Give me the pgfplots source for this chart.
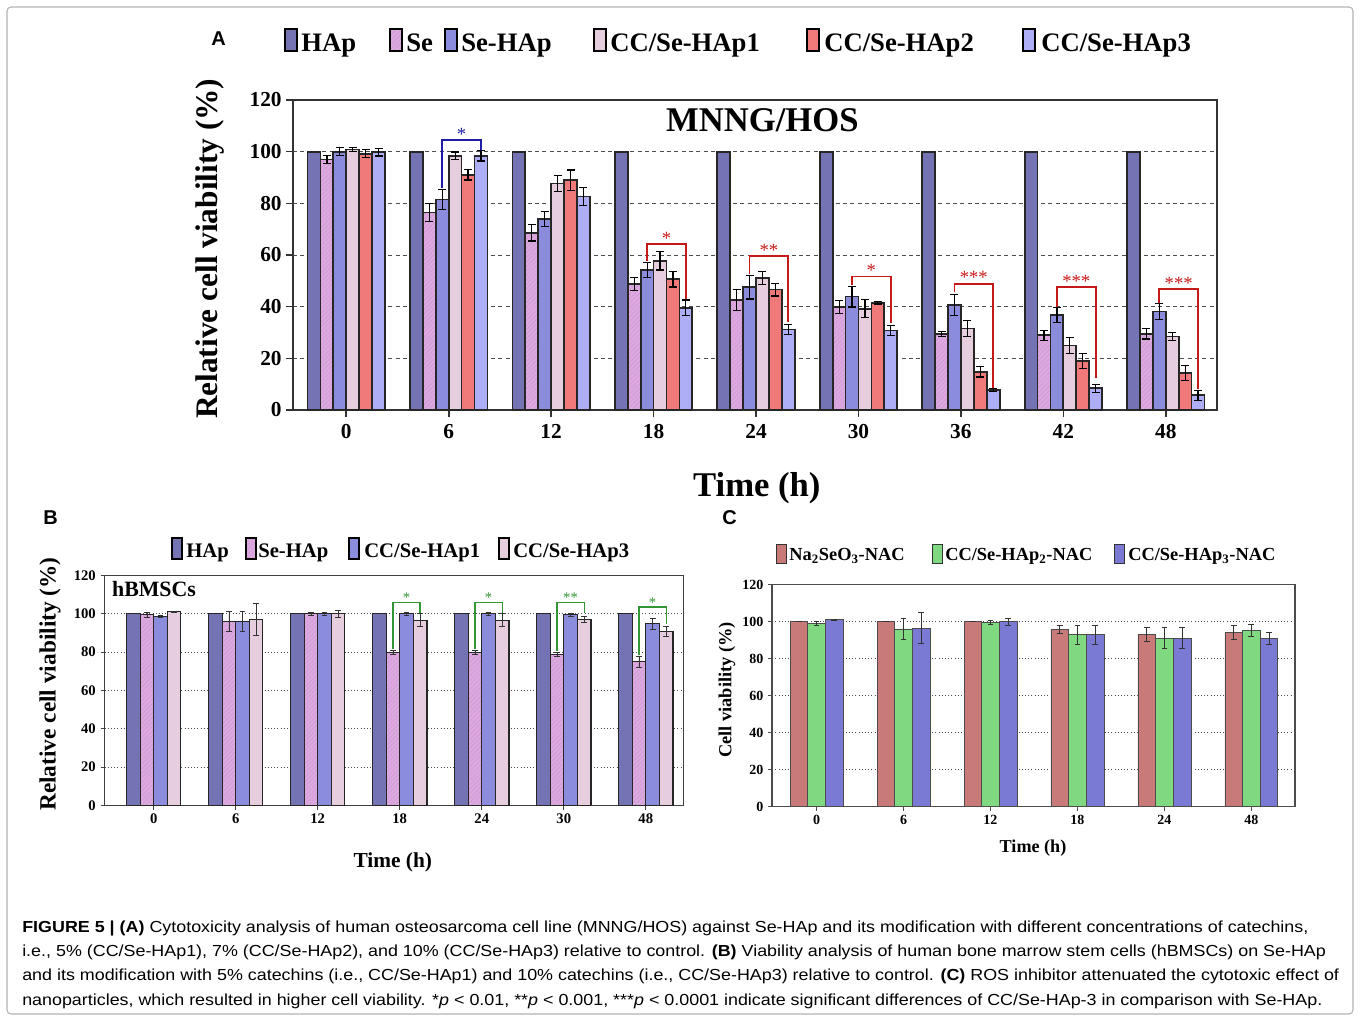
\documentclass[border=0pt]{standalone}
\usepackage{fontspec}
\setmainfont{Liberation Serif}
\newfontfamily\capfont[FakeStretch=1.118]{Liberation Sans}
\newfontfamily\letfont{Liberation Sans}
\usepackage{pgfplots}
\pgfplotsset{compat=1.18}
\usetikzlibrary{patterns.meta}
\newcommand\fs[1]{\fontsize{#1}{#1}\selectfont}
\definecolor{cHAp}{RGB}{116,116,180}
\definecolor{cSe}{RGB}{226,166,230}
\definecolor{cSeHAp}{RGB}{140,140,220}
\definecolor{cCCa}{RGB}{230,206,222}
\definecolor{cCCb}{RGB}{240,122,122}
\definecolor{cCCc}{RGB}{174,174,246}
\definecolor{cRed}{RGB}{200,122,120}
\definecolor{cGreen}{RGB}{128,216,128}
\definecolor{cBlue}{RGB}{122,122,212}
\definecolor{brBlue}{RGB}{30,30,165}
\definecolor{brRed}{RGB}{200,25,25}
\definecolor{brGreen}{RGB}{50,150,50}
\tikzset{sehatch/.style={postaction={pattern={Lines[angle=45,distance=2.4pt,line width=0.45pt]}, pattern color=white!45!cSe!80!black}}}
\pgfplotsset{
 errA/.style={error bars/.cd, y dir=both, y explicit,
   error bar style={line width=0.9pt, black},
   error mark options={rotate=90, mark size=3pt, line width=0.9pt, black}},
 errB/.style={error bars/.cd, y dir=both, y explicit,
   error bar style={line width=0.6pt, black!80},
   error mark options={rotate=90, mark size=2.2pt, line width=0.6pt, black!80}},
}
\newcommand\brA[5]{% left x, right x, top, left bottom, right bottom
  \draw[brRed, line width=1.3pt] (axis cs:#1,#4) |- (axis cs:#2,#3) -- (axis cs:#2,#5);}
\begin{document}
\begin{tikzpicture}
\begin{scope}[x=0.75pt,y=-0.75pt]
\path[use as bounding box] (0,0) rectangle (1360,1019);
\draw[black!30, line width=0.8pt, rounded corners=3pt] (7,7) rectangle (1353,1014);
% panel letters
\node[anchor=base west, inner sep=0pt, font=\letfont\bfseries\fs{15pt}] at (211,46) {A};
\node[anchor=base west, inner sep=0pt, font=\letfont\bfseries\fs{15pt}] at (43,525) {B};
\node[anchor=base west, inner sep=0pt, font=\letfont\bfseries\fs{15pt}] at (722,525) {C};
% legend A
\foreach \bx/\tx/\col/\lab in {285/301/cHAp/HAp, 445/461/cSeHAp/Se-HAp, 594/610/cCCa/CC\slash Se-HAp1, 807/824/cCCb/CC\slash Se-HAp2, 1023/1041/cCCc/CC\slash Se-HAp3}{
  \draw[fill=\col, line width=1.5pt] (\bx,29) rectangle ++(12,22);
  \node[anchor=base west, inner sep=0pt, font=\bfseries\fs{20pt}] at (\tx,52) {\lab};
}
\fill[cSe, sehatch] (390,29) rectangle ++(12,22);
\draw[line width=1.5pt] (390,29) rectangle ++(12,22);
\node[anchor=base west, inner sep=0pt, font=\bfseries\fs{20pt}] at (406,52) {Se};
% legend B
\foreach \bx/\tx/\col/\lab in {172/186/cHAp/HAp, 349/364/cSeHAp/CC\slash Se-HAp1, 499/513/cCCa/CC\slash Se-HAp3}{
  \draw[fill=\col, line width=1pt] (\bx,538) rectangle ++(10,21);
  \node[anchor=base west, inner sep=0pt, font=\bfseries\fs{15.5pt}] at (\tx,557) {\lab};
}
\fill[cSe, sehatch] (246,538) rectangle ++(10,21);
\draw[line width=1pt] (246,538) rectangle ++(10,21);
\node[anchor=base west, inner sep=0pt, font=\bfseries\fs{15.5pt}] at (258,557) {Se-HAp};
% legend C
\foreach \bx/\tx/\col/\lab in {776/789/cRed/Na\textsubscript{2}SeO\textsubscript{3}-NAC, 932/945/cGreen/CC\slash Se-HAp\textsubscript{2}-NAC, 1114/1128/cBlue/CC\slash Se-HAp\textsubscript{3}-NAC}{
  \draw[fill=\col, line width=0.7pt, draw=black!80] (\bx,544) rectangle ++(10,19);
  \node[anchor=base west, inner sep=0pt, font=\bfseries\fs{13.8pt}] at (\tx,561) {\lab};
}
% caption
\node[anchor=base west, inner sep=0pt, font=\capfont\fs{12pt}] at (22,932) {\textbf{FIGURE 5 | (A)} Cytotoxicity analysis of human osteosarcoma cell line (MNNG/HOS) against Se-HAp and its modification with different concentrations of catechins,};
\node[anchor=base west, inner sep=0pt, font=\capfont\fs{12pt}] at (22,956) {i.e., 5\% (CC/Se-HAp1), 7\% (CC/Se-HAp2), and 10\% (CC/Se-HAp3) relative to control. \textbf{(B)} Viability analysis of human bone marrow stem cells (hBMSCs) on Se-HAp};
\node[anchor=base west, inner sep=0pt, font=\capfont\fs{12pt}] at (22,980) {and its modification with 5\% catechins (i.e., CC/Se-HAp1) and 10\% catechins (i.e., CC/Se-HAp3) relative to control. \textbf{(C)} ROS inhibitor attenuated the cytotoxic effect of};
\node[anchor=base west, inner sep=0pt, font=\capfont\fs{12pt}] at (22,1005) {nanoparticles, which resulted in higher cell viability. *\textit{p} < 0.01, **\textit{p} < 0.001, ***\textit{p} < 0.0001 indicate significant differences of CC/Se-HAp-3 in comparison with Se-HAp.};
\end{scope}

% ================= Panel A
\begin{axis}[
 at={(219.75pt,-307.5pt)}, anchor=south west, scale only axis,
 width=693pt, height=232.5pt,
 xmin=-0.52, xmax=8.5, ymin=0, ymax=120,
 xtick={0,...,8}, xticklabels={0,6,12,18,24,30,36,42,48},
 ytick={0,20,...,120},
 xtick pos=bottom, ytick pos=left,
 ymajorgrids, major grid style={dash pattern=on 3pt off 2.5pt, black!70, line width=0.7pt},
 axis line style={line width=2.2pt, black!80},
 tick style={line width=1.2pt, black!80}, tick align=outside, major tick length=5pt,
 ticklabel style={font=\bfseries\fs{16pt}},
 xticklabel style={yshift=-2pt},
 /pgf/number format/assume math mode=true,
 ylabel={Relative cell viability (\%)},
 ylabel style={font=\bfseries\fs{23.5pt}, at={(axis description cs:-0.09,0.52)}, anchor=center},
 xlabel={Time (h)},
 xlabel style={font=\bfseries\fs{26pt}, at={(axis description cs:0.502,-0.252)}, anchor=center},
 ybar, bar width=0.126, clip=false,
 every axis plot/.append style={draw=black!85, line width=1.3pt},
]
\addplot[fill=cHAp, bar shift=-0.315] coordinates {(0,100)(1,100)(2,100)(3,100)(4,100)(5,100)(6,100)(7,100)(8,100)};
\addplot[fill=cSe, sehatch, bar shift=-0.189, errA] coordinates {
(0,97) +- (0,1.5) (1,76.5) +- (0,3.5) (2,68.6) +- (0,3.2) (3,48.9) +- (0,2.5) (4,42.6) +- (0,4)
(5,40) +- (0,2.5) (6,29.3) +- (0,1) (7,28.9) +- (0,2) (8,29.5) +- (0,2)};
\addplot[fill=cSeHAp, bar shift=-0.063, errA] coordinates {
(0,100) +- (0,1.5) (1,81.5) +- (0,4) (2,73.9) +- (0,3) (3,54.2) +- (0,3) (4,47.5) +- (0,4.5)
(5,43.9) +- (0,4) (6,40.6) +- (0,4) (7,36.8) +- (0,3) (8,38.1) +- (0,3)};
\addplot[fill=cCCa, bar shift=0.063, errA] coordinates {
(0,100.8) +- (0,0.8) (1,98.4) +- (0,1.5) (2,87.7) +- (0,3) (3,57.7) +- (0,3.5) (4,51.2) +- (0,2.5)
(5,39.2) +- (0,3.5) (6,31.5) +- (0,3) (7,25.0) +- (0,3) (8,28.4) +- (0,1.5)};
\addplot[fill=cCCb, bar shift=0.189, errA] coordinates {
(0,99.2) +- (0,1.5) (1,91) +- (0,2) (2,88.9) +- (0,4) (3,50.6) +- (0,3) (4,46.6) +- (0,2.5)
(5,41.5) +- (0,0.5) (6,14.8) +- (0,2) (7,19.0) +- (0,3) (8,14.3) +- (0,3)};
\addplot[fill=cCCc, bar shift=0.315, errA] coordinates {
(0,99.8) +- (0,1.5) (1,98.4) +- (0,2) (2,82.6) +- (0,3.5) (3,39.6) +- (0,3) (4,31.2) +- (0,2)
(5,30.8) +- (0,2) (6,7.7) +- (0,0.5) (7,8.4) +- (0,1.5) (8,5.7) +- (0,2)};
% brackets
\draw[brBlue, line width=1.3pt] (axis cs:0.937,86) |- (axis cs:1.315,104.5) -- (axis cs:1.315,100.5);
\node[brBlue, anchor=base, inner sep=0pt, font=\fs{14pt}] at (axis cs:1.126,104.5) {*};
\brA{2.937}{3.315}{64.2}{57.5}{43}
\brA{3.937}{4.315}{59.6}{52.5}{34}
\brA{4.937}{5.315}{51.7}{48.3}{33.5}
\brA{5.937}{6.315}{48.8}{45.5}{8.5}
\brA{6.937}{7.316}{47.5}{40}{12.5}
\brA{7.937}{8.315}{46.7}{41.5}{8}
\node[brRed, anchor=base, inner sep=0pt, font=\fs{14pt}] at (axis cs:3.126,64.2) {*};
\node[brRed, anchor=base, inner sep=0pt, font=\fs{14pt}] at (axis cs:4.126,59.6) {**};
\node[brRed, anchor=base, inner sep=0pt, font=\fs{14pt}] at (axis cs:5.126,51.7) {*};
\node[brRed, anchor=base, inner sep=0pt, font=\fs{14pt}] at (axis cs:6.126,48.8) {***};
\node[brRed, anchor=base, inner sep=0pt, font=\fs{14pt}] at (axis cs:7.126,47.5) {***};
\node[brRed, anchor=base, inner sep=0pt, font=\fs{14pt}] at (axis cs:8.126,46.7) {***};
\node[font=\bfseries\fs{26pt}] at (axis description cs:0.508,0.935) {MNNG/HOS};
\end{axis}

% ================= Panel B
\begin{axis}[
 at={(78.375pt,-604.125pt)}, anchor=south west, scale only axis,
 width=434.25pt, height=172.5pt,
 xmin=-0.6, xmax=6.46, ymin=0, ymax=120,
 xtick={0,...,6}, xticklabels={0,6,12,18,24,30,48},
 ytick={0,20,...,120},
 xtick pos=bottom, ytick pos=left,
 ymajorgrids, major grid style={dotted, black!70, line width=0.7pt},
 axis line style={line width=1.3pt, black!75},
 tick style={line width=0.8pt, black!75}, tick align=outside, major tick length=3pt,
 ticklabel style={font=\bfseries\fs{11pt}},
 /pgf/number format/assume math mode=true,
 ylabel={Relative cell viability (\%)},
 ylabel style={font=\bfseries\fs{17.5pt}, at={(axis description cs:-0.094,0.528)}, anchor=center},
 xlabel={Time (h)},
 xlabel style={font=\bfseries\fs{16pt}, at={(axis description cs:0.498,-0.246)}, anchor=center},
 ybar, bar width=0.166, clip=false,
 every axis plot/.append style={draw=black!85, line width=0.8pt},
]
\addplot[fill=cHAp, bar shift=-0.249] coordinates {(0,100)(1,100)(2,100)(3,100)(4,100)(5,100)(6,100)};
\addplot[fill=cSe, sehatch, bar shift=-0.083, errB] coordinates {
(0,99.5) +- (0,1.2) (1,96.2) +- (0,5.3) (2,100) +- (0,1) (3,79.8) +- (0,1) (4,79.8) +- (0,1) (5,79) +- (0,1) (6,74.9) +- (0,3)};
\addplot[fill=cSeHAp, bar shift=0.083, errB] coordinates {
(0,98.8) +- (0,0.6) (1,96.2) +- (0,5.3) (2,100) +- (0,1) (3,100) +- (0,1) (4,100) +- (0,1) (5,99.5) +- (0,0.8) (6,94.8) +- (0,3)};
\addplot[fill=cCCa, bar shift=0.249, errB] coordinates {
(0,101) +- (0,0.5) (1,97) +- (0,8.4) (2,100) +- (0,2) (3,96.7) +- (0,3.5) (4,96.7) +- (0,3.5) (5,97) +- (0,1.5) (6,90.8) +- (0,2.7)};
\draw[brGreen, line width=1pt] (axis cs:2.917,81.5) |- (axis cs:3.249,106) -- (axis cs:3.249,100.5);
\draw[brGreen, line width=1pt] (axis cs:3.917,81.5) |- (axis cs:4.249,106) -- (axis cs:4.249,100.5);
\draw[brGreen, line width=1pt] (axis cs:4.917,80.5) |- (axis cs:5.249,106) -- (axis cs:5.249,100.5);
\draw[brGreen, line width=1pt] (axis cs:5.917,78.5) |- (axis cs:6.249,103.5) -- (axis cs:6.249,94.5);
\node[brGreen, anchor=base, inner sep=0pt, font=\fs{11pt}] at (axis cs:3.083,106) {*};
\node[brGreen, anchor=base, inner sep=0pt, font=\fs{11pt}] at (axis cs:4.083,106) {*};
\node[brGreen, anchor=base, inner sep=0pt, font=\fs{11pt}] at (axis cs:5.083,106) {**};
\node[brGreen, anchor=base, inner sep=0pt, font=\fs{11pt}] at (axis cs:6.083,103.5) {*};
\node[anchor=west, font=\bfseries\fs{16.4pt}] at (axis description cs:0.005,0.941) {hBMSCs};
\end{axis}

% ================= Panel C
\begin{axis}[
 at={(579.15pt,-605.0pt)}, anchor=south west, scale only axis,
 width=392pt, height=166.65pt,
 xmin=-0.51, xmax=5.5, ymin=0, ymax=120,
 xtick={0,...,5}, xticklabels={0,6,12,18,24,48},
 ytick={0,20,...,120},
 xtick pos=bottom, ytick pos=left,
 ymajorgrids, major grid style={dotted, black!70, line width=0.7pt},
 axis line style={line width=1.2pt, black!70},
 tick style={line width=0.8pt, black!70}, tick align=outside, major tick length=3pt,
 ticklabel style={font=\bfseries\fs{10.5pt}},
 /pgf/number format/assume math mode=true,
 ylabel={Cell viability (\%)},
 ylabel style={font=\bfseries\fs{13.8pt}, at={(axis description cs:-0.0865,0.525)}, anchor=center},
 xlabel={Time (h)},
 xlabel style={font=\bfseries\fs{13.6pt}, at={(axis description cs:0.499,-0.186)}, anchor=center},
 ybar, bar width=0.203, clip=false,
 every axis plot/.append style={draw=black!70, line width=0.6pt},
]
\addplot[fill=cRed, bar shift=-0.203, errB] coordinates {
(0,100) +- (0,0) (1,100) +- (0,0) (2,100) +- (0,0) (3,95.7) +- (0,2.1) (4,93) +- (0,4) (5,94) +- (0,3.7)};
\addplot[fill=cGreen, bar shift=0, errB] coordinates {
(0,98.9) +- (0,1) (1,96) +- (0,5.6) (2,99.6) +- (0,1.2) (3,92.8) +- (0,5) (4,91) +- (0,5.6) (5,95) +- (0,3.2)};
\addplot[fill=cBlue, bar shift=0.203, errB] coordinates {
(0,100.9) +- (0,0.5) (1,96.4) +- (0,8.3) (2,99.8) +- (0,2) (3,92.8) +- (0,5) (4,91) +- (0,5.6) (5,90.8) +- (0,3.2)};
\end{axis}
\end{tikzpicture}
\end{document}
